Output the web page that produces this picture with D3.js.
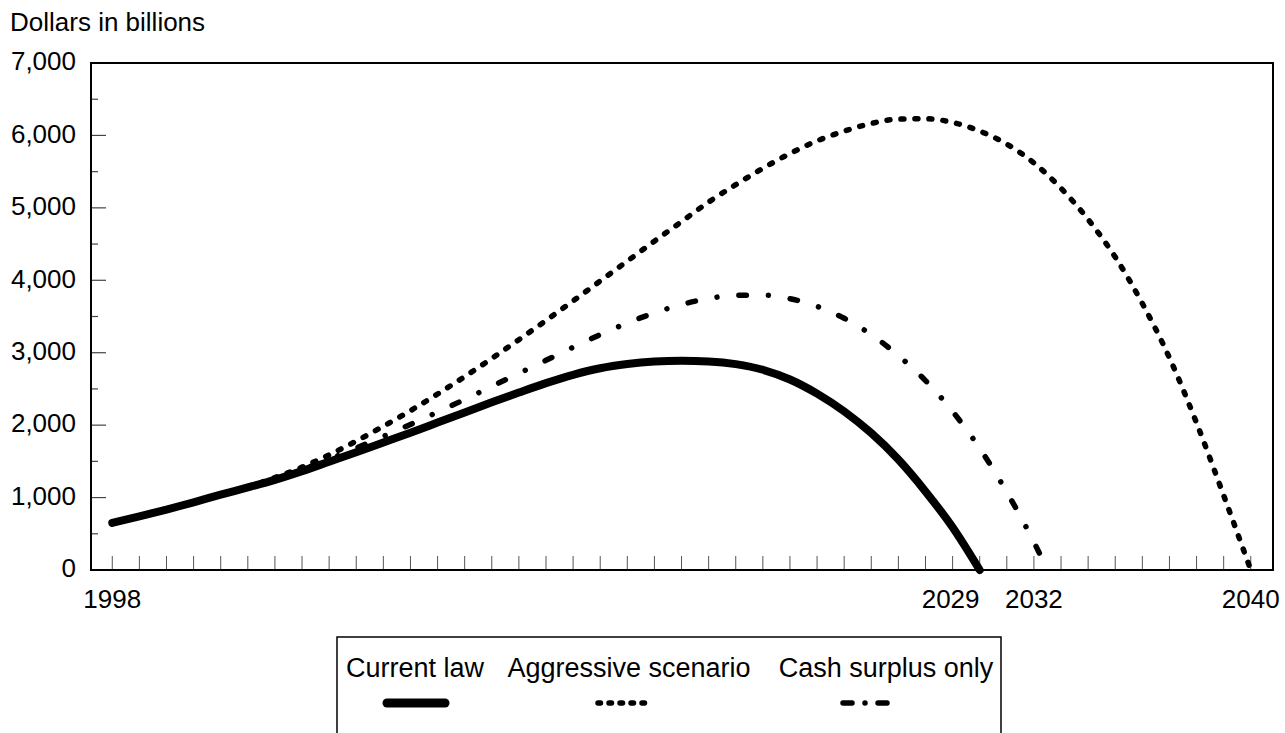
<!DOCTYPE html>
<html>
<head>
<meta charset="utf-8">
<script src="https://cdn.jsdelivr.net/npm/d3@7"></script>
<style>
  body { margin: 0; background: #fff; }
  svg { display: block; font-family: "Liberation Sans", Arial, sans-serif; }
</style>
</head>
<body>
<svg id="debtChart" width="1285" height="733"></svg>
<script>
// years for each projection
var currentYears = d3.range(1998, 2031);
var aggressiveYears = d3.range(1998, 2041);
var cashYears = d3.range(1998, 2033).concat([2032.5]);

// debt held by the public, dollars in billions
var currentLaw = [650, 740, 835, 935, 1040, 1140, 1245, 1365, 1495, 1625,
  1760, 1895, 2035, 2175, 2315, 2450, 2580, 2695, 2785, 2843,
  2878, 2890, 2880, 2843, 2765, 2630, 2435, 2190, 1890, 1525,
  1085, 590, 0];
var aggressive = [650, 740, 835, 935, 1045, 1150, 1275, 1420, 1590, 1780,
  1985, 2200, 2430, 2670, 2920, 3180, 3445, 3715, 3990, 4265,
  4540, 4810, 5080, 5320, 5545, 5750, 5925, 6060, 6165, 6225,
  6230, 6180, 6060, 5880, 5620, 5270, 4840, 4320, 3680, 2930,
  2030, 1030, 0];
var cashSurplus = [650, 740, 835, 935, 1042, 1145, 1255, 1385, 1530, 1685,
  1845, 2010, 2180, 2355, 2535, 2715, 2895, 3075, 3250, 3410,
  3550, 3665, 3748, 3793, 3795, 3745, 3640, 3475, 3250, 2960,
  2615, 2190, 1680, 1075, 385, 0];

var yTicks = [0, 1000, 2000, 3000, 4000, 5000, 6000, 7000];
var xLabels = [1998, 2029, 2032, 2040];
var legendNames = ["Current law", "Aggressive scenario", "Cash surplus only"];

var svg = d3.select("svg#debtChart"),
  plot = { left: 91, right: 1273, top: 63, bottom: 570 };

var x = d3.scaleLinear().domain([1997.215, 2040.82]).range([plot.left, plot.right]);
var y = d3.scaleLinear().domain([0, 7000]).range([plot.bottom, plot.top]);

// line styles: thick solid, dotted, dash-dot
var styles = [
  { width: 8, dash: null },
  { width: 5.5, dash: "3,11" },
  { width: 5.5, dash: "7.5,22,0.01,22" }
];

var series = [
  currentYears.map(function (d, i) { return [d, currentLaw[i]]; }),
  aggressiveYears.map(function (d, i) { return [d, aggressive[i]]; }),
  cashYears.map(function (d, i) { return [d, cashSurplus[i]]; })
];

svg.append("rect").attr("width", 1285).attr("height", 733).attr("fill", "#fff");

// title
svg.append("text")
  .attr("x", 10)
  .attr("y", 31)
  .attr("font-size", 26)
  .text("Dollars in billions");

// minor year ticks along the bottom
svg.append("g")
  .selectAll("line")
  .data(aggressiveYears)
  .enter()
  .append("line")
  .attr("x1", function (d) { return x(d); })
  .attr("x2", function (d) { return x(d); })
  .attr("y1", plot.bottom)
  .attr("y2", plot.bottom - 14)
  .attr("stroke", "#555")
  .attr("stroke-width", 1);

// y ticks every 500, longer at thousands
svg.append("g")
  .selectAll("line")
  .data(d3.range(500, 7000, 500))
  .enter()
  .append("line")
  .attr("x1", plot.left)
  .attr("x2", function (d) { return plot.left + (d % 1000 === 0 ? 15 : 7); })
  .attr("y1", function (d) { return y(d); })
  .attr("y2", function (d) { return y(d); })
  .attr("stroke", "#444")
  .attr("stroke-width", 1.2);

// y labels
svg.append("g")
  .attr("font-size", 26)
  .attr("text-anchor", "end")
  .selectAll("text")
  .data(yTicks)
  .enter()
  .append("text")
  .attr("x", plot.left - 15)
  .attr("y", function (d) { return y(d); })
  .attr("dy", "0.28em")
  .text(d3.format(","));

// x labels (2029 nudged left so it clears 2032)
svg.append("g")
  .attr("font-size", 26)
  .attr("text-anchor", "middle")
  .selectAll("text")
  .data(xLabels)
  .enter()
  .append("text")
  .attr("x", function (d) { return x(d) - (d === 2029 ? 2 : 0); })
  .attr("y", plot.bottom + 38)
  .text(function (d) { return d; });

// frame
svg.append("rect")
  .attr("x", plot.left)
  .attr("y", plot.top)
  .attr("width", plot.right - plot.left)
  .attr("height", plot.bottom - plot.top)
  .attr("fill", "none")
  .attr("stroke", "#000")
  .attr("stroke-width", 2);

var line = d3.line()
  .x(function (d) { return x(d[0]); })
  .y(function (d) { return y(d[1]); })
  .curve(d3.curveMonotoneX);

// draw dotted ones first, the thick line on top
[1, 2, 0].forEach(function (k) {
  svg.append("path")
    .datum(series[k])
    .attr("d", line)
    .attr("fill", "none")
    .attr("stroke", "#000")
    .attr("stroke-width", styles[k].width)
    .attr("stroke-linecap", "round")
    .attr("stroke-linejoin", "round")
    .attr("stroke-dasharray", styles[k].dash);
});

// legend
var legend = svg.append("g");

legend.append("rect")
  .attr("x", 337)
  .attr("y", 637)
  .attr("width", 664)
  .attr("height", 110)
  .attr("fill", "#fff")
  .attr("stroke", "#000")
  .attr("stroke-width", 1.5);

// text centres, sample line start and end
var legendText = [415, 629, 886];
var legendSample = [[387, 445], [598, 650], [843, 900]];

legend.selectAll("text")
  .data(legendNames)
  .enter()
  .append("text")
  .attr("x", function (d, i) { return legendText[i]; })
  .attr("y", 677)
  .attr("font-size", 27)
  .attr("text-anchor", "middle")
  .text(function (d) { return d; });

legend.selectAll("line")
  .data(legendNames)
  .enter()
  .append("line")
  .attr("x1", function (d, i) { return legendSample[i][0]; })
  .attr("x2", function (d, i) { return legendSample[i][1]; })
  .attr("y1", 703)
  .attr("y2", 703)
  .attr("stroke", "#000")
  .attr("stroke-width", function (d, i) { return i === 0 ? 9 : styles[i].width; })
  .attr("stroke-linecap", "round")
  .attr("stroke-dasharray", function (d, i) {
    return i === 1 ? "2.5,8.5" : i === 2 ? "9,13,0.01,13" : null;
  });
</script>
</body>
</html>
